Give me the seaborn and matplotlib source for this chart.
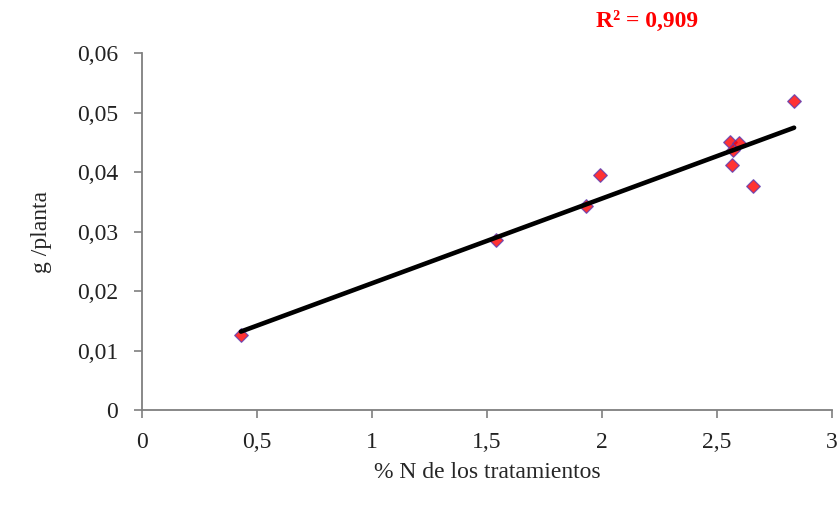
import numpy as np
import pandas as pd
import matplotlib
matplotlib.use("Agg")
import matplotlib.pyplot as plt
import seaborn as sns

# % N in the treatments and yield per plant
n_pct = [0.43, 1.54, 1.93, 1.99, 2.557, 2.57, 2.596, 2.565, 2.657, 2.835]
g_planta = [0.0126, 0.0286, 0.0343, 0.0395, 0.0450, 0.0437, 0.0449, 0.0412, 0.0376, 0.0519]
r2_label = "R² = 0,909"
x_ticks = [0, 0.5, 1, 1.5, 2, 2.5, 3]
x_tick_labels = ["0", "0,5", "1", "1,5", "2", "2,5", "3"]
y_ticks = [0, 0.01, 0.02, 0.03, 0.04, 0.05, 0.06]
y_tick_labels = ["0", "0,01", "0,02", "0,03", "0,04", "0,05", "0,06"]

df = pd.DataFrame({"n": n_pct, "g": g_planta})

sns.set_style("white")
plt.rcParams["font.family"] = ["Liberation Serif", "DejaVu Serif"]

fig = plt.figure(figsize=(8.39, 5.05), dpi=100)
ax = fig.add_axes([0.1692, 0.1881, 0.8225, 0.7069])

sns.regplot(data=df, x="n", y="g", ax=ax, ci=None, marker="D",
            scatter_kws=dict(s=48, color="#ff0000",
                             edgecolors="#5a3cb4", linewidths=0.9, zorder=2),
            line_kws=dict(color="black", lw=3.3, zorder=3))

ax.set_xlim(0, 3)
ax.set_ylim(0, 0.06)
ax.set_xticks(x_ticks)
ax.set_xticklabels(x_tick_labels, fontsize=17)
ax.set_yticks(y_ticks)
ax.set_yticklabels(y_tick_labels, fontsize=17)

for side in ("top", "right"):
    ax.spines[side].set_visible(False)
for side in ("left", "bottom"):
    ax.spines[side].set_color("#7f7f7f")
    ax.spines[side].set_linewidth(1.3)
ax.tick_params(axis="both", which="major", direction="out", length=6,
               width=1.2, color="#7f7f7f", labelcolor="#222222",
               bottom=True, left=True)
ax.tick_params(axis="y", pad=11)
ax.tick_params(axis="x", pad=10)

ax.set_xlabel("% N de los tratamientos", fontsize=17, labelpad=6)
ax.set_ylabel("g /planta", fontsize=17, labelpad=18)

fig.text(0.771, 0.957, r2_label, color="#ff0000", fontsize=17,
         fontweight="bold", ha="center", va="center")

fig.savefig("out.png", dpi=100)
